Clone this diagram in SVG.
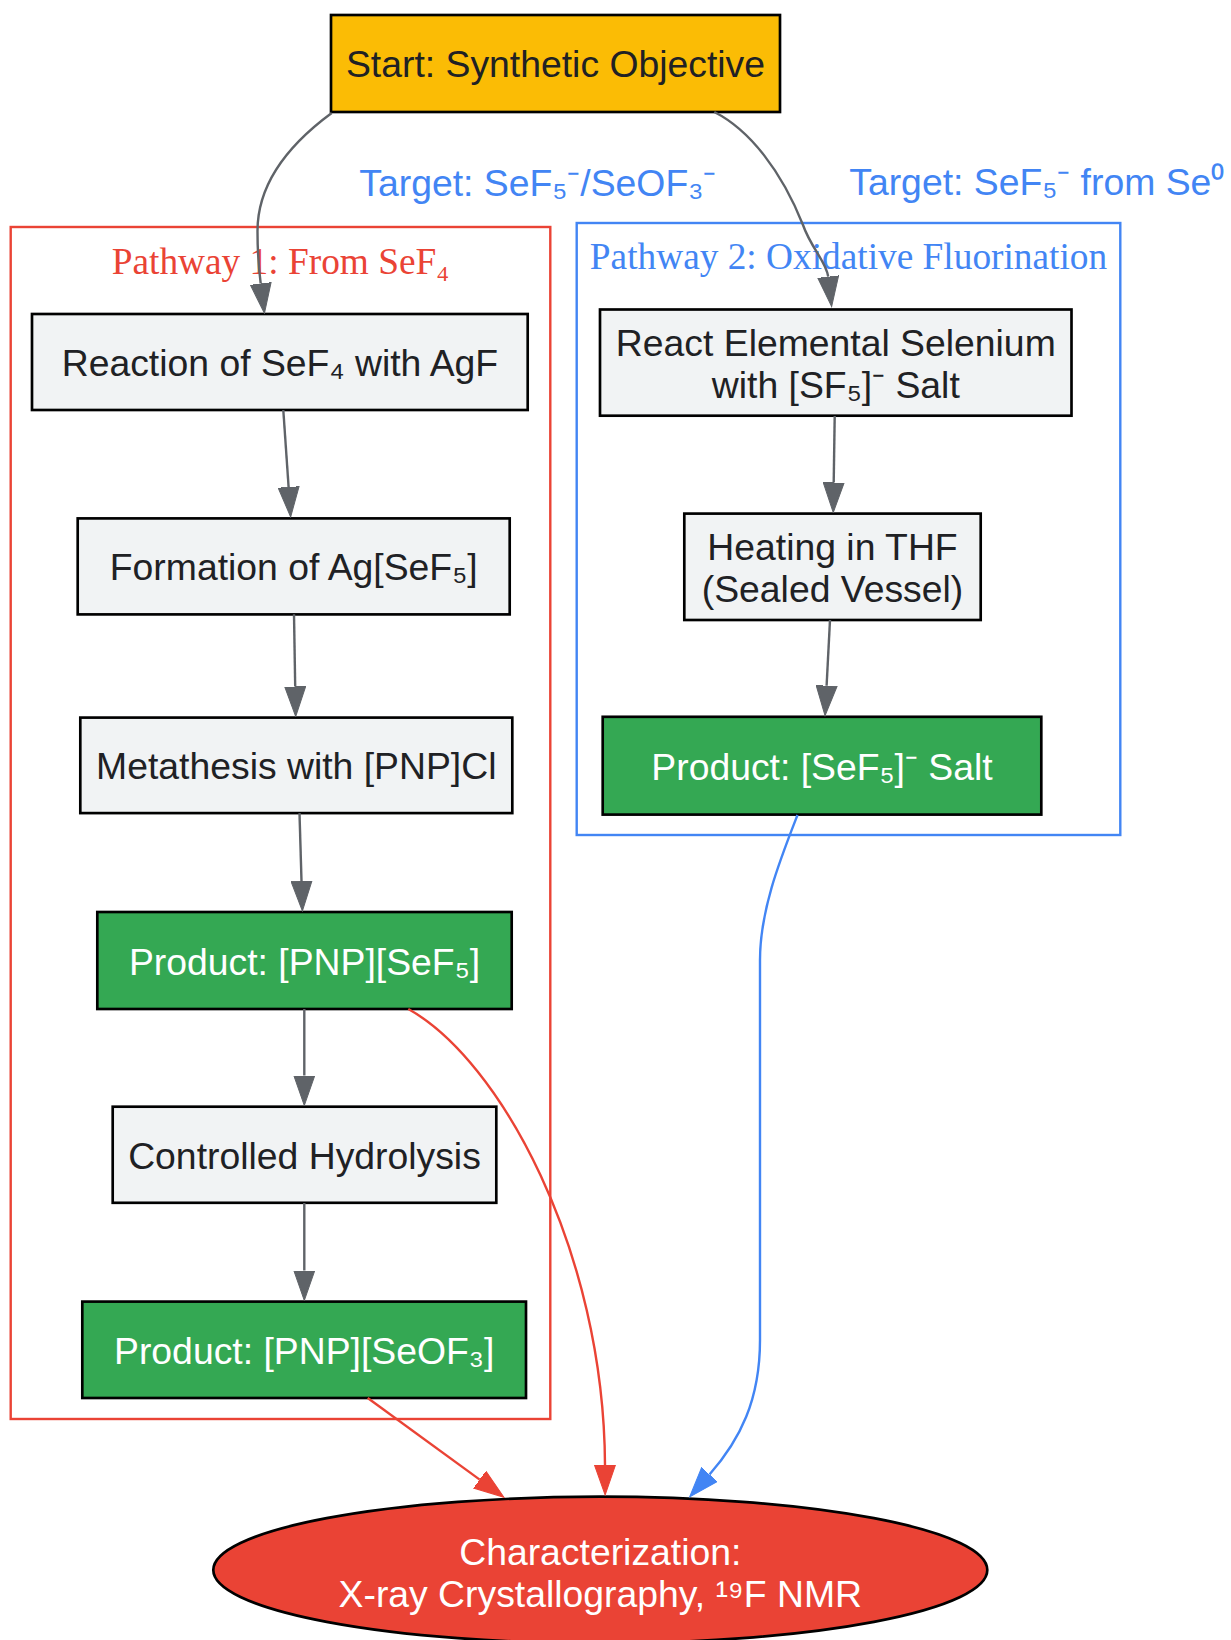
<svg xmlns="http://www.w3.org/2000/svg" width="1231" height="1640" viewBox="0 0 1231 1640">
<defs>
<style>
.box{stroke:#000;stroke-width:2.67}
.gray{fill:#F1F3F4}
.green{fill:#34A853}
.t{font-family:"Liberation Sans",Arial,sans-serif;font-size:37.33px;text-anchor:middle}
.dark{fill:#202124}
.white{fill:#FFFFFF}
.ct{font-family:"Liberation Serif","Times New Roman",serif;font-size:37.33px;text-anchor:middle}
.e{fill:none;stroke-width:2.4}
.eg{stroke:#5F6368}
.er{stroke:#EA4335}
.eb{stroke:#4285F4}
</style>
<marker id="ag" viewBox="0 -11 31 22" markerWidth="31" markerHeight="22" refX="0" refY="0" orient="auto" markerUnits="userSpaceOnUse"><path d="M0,-10.5 L30,0 L0,10.5 Z" fill="#5F6368" stroke="#5F6368" stroke-width="1"/></marker>
<marker id="ar" viewBox="0 -11 31 22" markerWidth="31" markerHeight="22" refX="0" refY="0" orient="auto" markerUnits="userSpaceOnUse"><path d="M0,-10.5 L30,0 L0,10.5 Z" fill="#EA4335" stroke="#EA4335" stroke-width="1"/></marker>
<marker id="ab" viewBox="0 -11 31 22" markerWidth="31" markerHeight="22" refX="0" refY="0" orient="auto" markerUnits="userSpaceOnUse"><path d="M0,-10.5 L30,0 L0,10.5 Z" fill="#4285F4" stroke="#4285F4" stroke-width="1"/></marker>
</defs>
<rect x="0" y="0" width="1231" height="1640" fill="#FFFFFF"/>

<g id="cluster1">
<rect x="10.7" y="227" width="539.6" height="1192" fill="none" stroke="#EA4335" stroke-width="2.4"/>
<text class="ct" x="280.5" y="273.5" fill="#EA4335">Pathway 1: From SeF₄</text>
</g>
<g id="cluster2">
<rect x="576.7" y="223" width="543.6" height="612" fill="none" stroke="#4285F4" stroke-width="2.4"/>
<text class="ct" x="848.5" y="268.5" fill="#4285F4">Pathway 2: Oxidative Fluorination</text>
</g>

<g id="start">
<rect class="box" x="331" y="15" width="449" height="97" fill="#FBBC05"/>
<text class="t dark" x="555.5" y="77">Start: Synthetic Objective</text>
</g>
<g id="reaction">
<rect class="box gray" x="32" y="314" width="495.7" height="96"/>
<text class="t dark" x="279.9" y="376">Reaction of SeF₄ with AgF</text>
</g>
<g id="formation">
<rect class="box gray" x="77.7" y="518.4" width="432" height="96"/>
<text class="t dark" x="293.7" y="580.4">Formation of Ag[SeF₅]</text>
</g>
<g id="metathesis">
<rect class="box gray" x="80.3" y="717.6" width="432" height="95.5"/>
<text class="t dark" x="296.3" y="779.4">Metathesis with [PNP]Cl</text>
</g>
<g id="pnp_sef5">
<rect class="box green" x="97.3" y="912" width="414.4" height="97"/>
<text class="t white" x="304.5" y="974.5">Product: [PNP][SeF₅]</text>
</g>
<g id="hydrolysis">
<rect class="box gray" x="112.7" y="1106.7" width="383.6" height="96.1"/>
<text class="t dark" x="304.5" y="1168.8">Controlled Hydrolysis</text>
</g>
<g id="pnp_seof3">
<rect class="box green" x="82.3" y="1301.6" width="443.7" height="96.4"/>
<text class="t white" x="304.2" y="1363.8">Product: [PNP][SeOF₃]</text>
</g>
<g id="react_se">
<rect class="box gray" x="600" y="309.5" width="471.5" height="106.2"/>
<text class="t dark" x="835.8" y="355.6">React Elemental Selenium</text>
<text class="t dark" x="835.8" y="397.6">with [SF₅]⁻ Salt</text>
</g>
<g id="heating">
<rect class="box gray" x="684.3" y="513.6" width="296.4" height="106.4"/>
<text class="t dark" x="832.5" y="560.3">Heating in THF</text>
<text class="t dark" x="832.5" y="601.5">(Sealed Vessel)</text>
</g>
<g id="sef5_salt">
<rect class="box green" x="602.7" y="716.8" width="438.6" height="97.8"/>
<text class="t white" x="822" y="780">Product: [SeF₅]⁻ Salt</text>
</g>
<g id="characterization">
<ellipse cx="600.3" cy="1570" rx="387" ry="73.3" fill="#EA4335" stroke="#000" stroke-width="2.67"/>
<text class="t white" x="600.3" y="1565">Characterization:</text>
<text class="t white" x="600.3" y="1606.5">X-ray Crystallography, ¹⁹F NMR</text>
</g>

<g id="connectors">
<path class="e eg" d="M331.7,113 C295,140 257,180 257.5,232 C257.5,255 259,270 260.7,283.5" marker-end="url(#ag)"/>
<path class="e eg" d="M714.3,112 C750,130 782,172 803,225 C811,248 826.5,262 828.2,276.7" marker-end="url(#ag)"/>
<path class="e eg" d="M283.3,410 L288.6,487" marker-end="url(#ag)"/>
<path class="e eg" d="M294,614.3 L295.2,686.5" marker-end="url(#ag)"/>
<path class="e eg" d="M299.5,813.1 L301.5,881" marker-end="url(#ag)"/>
<path class="e eg" d="M304.3,1009 L304.3,1075.5" marker-end="url(#ag)"/>
<path class="e eg" d="M304.3,1203 L304.3,1270.5" marker-end="url(#ag)"/>
<path class="e eg" d="M834.7,416 L833.7,482.5" marker-end="url(#ag)"/>
<path class="e eg" d="M830,620 L826.6,685.7" marker-end="url(#ag)"/>
<path class="e er" d="M367.7,1398 L479.7,1479.6" marker-end="url(#ar)"/>
<path class="e er" d="M408.3,1009 C500,1060 604,1250 605,1465" marker-end="url(#ar)"/>
<path class="e eb" d="M797.5,815 C780,860 760,910 760,960 L760,1340 C760,1400 740,1440 709.5,1474.5" marker-end="url(#ab)"/>
<text class="t" x="537.9" y="195.5" fill="#4285F4">Target: SeF₅⁻/SeOF₃⁻</text>
<text class="t" x="1036.8" y="194.5" fill="#4285F4">Target: SeF₅⁻ from Se⁰</text>
</g>
</svg>
